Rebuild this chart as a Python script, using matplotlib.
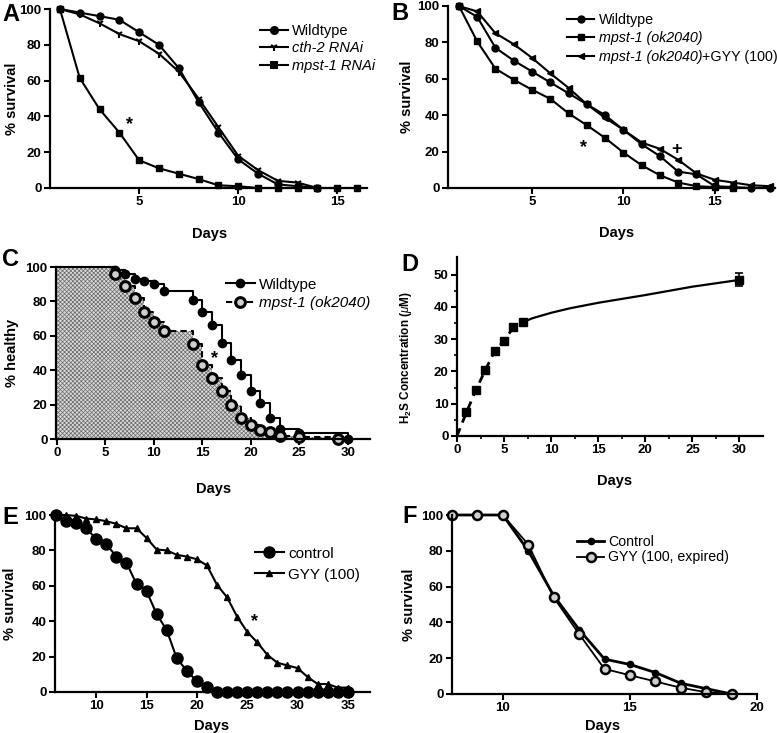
import numpy as np
import matplotlib
matplotlib.use('Agg')
import matplotlib.pyplot as plt
from matplotlib.lines import Line2D

plt.rcParams['font.family'] = ['Liberation Sans', 'DejaVu Sans']
plt.rcParams['font.weight'] = 'bold'
plt.rcParams['axes.labelweight'] = 'bold'
plt.rcParams['mathtext.fontset'] = 'custom'
plt.rcParams['mathtext.rm'] = 'Liberation Sans'
plt.rcParams['mathtext.it'] = 'Liberation Sans:style=italic:weight=normal'
plt.rcParams['mathtext.bf'] = 'Liberation Sans:weight=bold'
plt.rcParams['hatch.linewidth'] = 0.5
plt.rcParams['hatch.color'] = '#6a6a6a'

# ---- data ----
# A
a_days = np.arange(1, 17)
a_wt = [100, 98, 96, 94, 87, 80, 67, 48, 31, 16, 8, 2, 1, 0]
a_cth2 = [100, 97, 92, 86, 82, 75, 65, 50, 34, 18, 10, 4, 3, 0]
a_mpst = [100, 61.5, 44, 31, 15.5, 11, 8, 5, 1.5, 1, 0, 0, 0, 0, 0, 0]

# B
b_days = np.arange(1, 19)
b_wt = [100, 94, 77, 70, 64, 58, 52, 46, 40, 32, 24, 17.5, 9, 7.5, 1, 0.5, 0, 0]
b_mpst = [100, 80.5, 65.5, 59.5, 54, 49, 41, 34.5, 27.5, 19.5, 12.5, 7, 3, 1, 0.5, 0]
b_gyy = [100, 97, 85, 79, 71.5, 63, 55, 46, 38.5, 32, 25, 21.5, 15.5, 8, 4.5, 3, 1.5, 1]

# C (healthspan step curves)
c_wt_days = [0, 6, 7, 8, 9, 10, 11, 14, 15, 16, 17, 18, 19, 20, 21, 22, 23, 25, 30]
c_wt = [100, 98, 96, 93, 92, 90, 86, 81, 74, 66, 56, 46, 37, 28, 21, 12, 6, 3.5, 0]
c_mp_days = [0, 6, 7, 8, 9, 10, 11, 14, 15, 16, 17, 18, 19, 20, 21, 22, 23, 25, 29]
c_mp = [100, 96, 89, 82, 74, 68, 63, 55, 43, 35.5, 28, 19.5, 12.5, 8, 5.5, 4, 2, 1, 0]

# D
d_days = [0, 1, 2, 3, 4, 5, 6, 7]
d_conc = [0, 7.3, 14.2, 20.4, 26.3, 29.6, 33.7, 35.3]
d_last_day = [30]
d_last_conc = [48.4]
d_last_err = [2]
d_fit_days = [7, 8, 10, 12, 15, 20, 25, 30]
d_fit_conc = [35.3, 36.5, 38.2, 39.6, 41.3, 43.7, 46.3, 48.4]

# E
e_days = np.arange(6, 36)
e_ctrl = [100, 96.5, 95.5, 92.5, 86.5, 83.5, 76.5, 73, 61, 57, 44, 35, 19, 12, 6, 3,
          0, 0, 0, 0, 0, 0, 0, 0, 0, 0, 0, 0, 0, 0]
e_gyy = [100, 100, 99.5, 98, 97.5, 96.5, 95, 92.5, 92.5, 87, 80.5, 80, 77.5, 76.5, 75,
         71.5, 60.5, 53.5, 42.5, 34, 28, 21, 16.5, 15, 13.5, 8.5, 4.5, 4.5, 2.5, 2.5]

# F
f_days = np.arange(8, 20)
f_ctrl = [100, 100, 100, 80, 55, 36, 19.5, 16.5, 12, 6, 3, 0]
f_gyy = [100, 100, 100, 83.5, 54, 33.5, 14, 10.5, 7, 3.5, 1, 0]

W, H = 777, 733
fig = plt.figure(figsize=(W / 100, H / 100), dpi=100)


def make_ax(l, t, r, b):
    ax = fig.add_axes([l / W, 1 - b / H, (r - l) / W, (b - t) / H])
    for s in ['top', 'right']:
        ax.spines[s].set_visible(False)
    for s in ['left', 'bottom']:
        ax.spines[s].set_linewidth(1.6)
    ax.tick_params(width=1.5, length=4, labelsize=9.5, pad=2)
    ax.patch.set_alpha(0)
    ax.box = (l, t, r, b)
    return ax


def labels(ax, ylab, yright, xlab, xcenter, ycenter, fs=10.5, yfs=10.5, ymid=None):
    # positions given in figure pixels
    l, t, r, b = ax.box
    ax.set_ylabel(ylab, fontsize=yfs)
    ymid = (t + b) / 2 if ymid is None else ymid
    ax.yaxis.set_label_coords((yright - l) / (r - l), (b - ymid) / (b - t))
    if xlab:
        ax.set_xlabel(xlab, fontsize=fs)
        ax.xaxis.set_label_coords((xcenter - l) / (r - l), (b - (ycenter - 6)) / (b - t))


def legend(ax, handles, names, x, y, italic=(), fs=10.5, sp=0.2):
    lg = ax.legend(handles, names, loc='upper left', bbox_to_anchor=(x / W, 1 - y / H),
                   bbox_transform=fig.transFigure, frameon=False,
                   prop={'size': fs, 'weight': 'normal'},
                   handlelength=1.9, handletextpad=0.3, labelspacing=sp, borderpad=0)
    for i, t in enumerate(lg.get_texts()):
        if i in italic:
            t.set_fontstyle('italic')
    return lg


kw = dict(color='black', lw=1.5, clip_on=False)

# ---- A ----
axA = make_ax(50, 9, 367, 188)
axA.plot(a_days[:len(a_wt)], a_wt, marker='o', ms=5, **kw)
axA.plot(a_days[:len(a_cth2)], a_cth2, marker='1', ms=6, mew=1.5, **kw)
axA.plot(a_days, a_mpst, marker='s', ms=5, **kw)
axA.set_xlim(0.5, 16.5)
axA.set_ylim(0, 100)
axA.set_xticks([5, 10, 15])
axA.set_yticks([0, 20, 40, 60, 80, 100])
axA.text(4.5, 33, '*', fontsize=13, ha='center')
labels(axA, '% survival', 19, 'Days', 210, 233)
legend(axA, [Line2D([], [], marker=m, ms=s, color='k', lw=1.5, mew=1.5) for m, s in
             [('o', 5), ('1', 6), ('s', 5)]],
       ['Wildtype', 'cth-2 RNAi', 'mpst-1 RNAi'], 253, 17, italic=(1, 2), sp=0.22)

# ---- B ----
axB = make_ax(448, 6, 775, 188)
axB.plot(b_days[:len(b_wt)], b_wt, marker='o', ms=5, **kw)
axB.plot(b_days[:len(b_mpst)], b_mpst, marker='s', ms=5, **kw)
axB.plot(b_days, b_gyy, marker='<', ms=5, **kw)
axB.set_xlim(0.4, 18.3)
axB.set_ylim(0, 100)
axB.set_xticks([5, 10, 15])
axB.set_yticks([0, 20, 40, 60, 80, 100])
axB.text(7.8, 20, '*', fontsize=13, ha='center')
axB.text(12.9, 18.5, '+', fontsize=13, ha='center')
labels(axB, '% survival', 414, 'Days', 617, 232)
lgB = legend(axB, [Line2D([], [], marker=m, ms=5, color='k', lw=1.5) for m in ['o', 's', '<']],
             ['Wildtype', 'mpst-1 (ok2040)', 'mpst-1 (ok2040)'], 560, 6, italic=(1, 2),
             fs=10.3, sp=0.3)

# ---- C ----
axC = make_ax(56, 267, 370, 439)
axC.fill_between(c_mp_days, c_mp, step='post', facecolor='#d9d9d9',
                 edgecolor='#6a6a6a', hatch='xxxxxxxx', lw=0)
axC.step(c_wt_days, c_wt, where='post', color='k', lw=1.5, clip_on=False)
axC.plot(c_wt_days[1:], c_wt[1:], 'o', color='k', ms=6, clip_on=False)
axC.step(c_mp_days, c_mp, where='post', color='k', lw=1.5, ls=(0, (3, 2)), clip_on=False)
axC.plot(c_mp_days[1:], c_mp[1:], 'o', mfc='#cfcfcf', mec='k', mew=2.2, ms=7, clip_on=False)
axC.set_xlim(-0.1, 32.3)
axC.set_ylim(0, 100)
axC.set_xticks([0, 5, 10, 15, 20, 25, 30])
axC.set_yticks([0, 20, 40, 60, 80, 100])
axC.text(16.3, 44, '*', fontsize=13, ha='center')
labels(axC, '% healthy', 19, 'Days', 214, 488)
legend(axC, [Line2D([], [], marker='o', ms=6, color='k', lw=1.5),
             Line2D([], [], marker='o', ms=7, mfc='#cfcfcf', mec='k', mew=2.2, color='k',
                    lw=1.5, ls=(0, (3, 2)))],
       ['Wildtype', 'mpst-1 (ok2040)'], 218, 270, italic=(1,), fs=11, sp=0.3)

# ---- D ----
axD = make_ax(457, 257, 763, 436)
axD.plot(d_days, d_conc, color='k', lw=2, ls=(0, (3, 2.2)), clip_on=False)
axD.plot(d_days[1:], d_conc[1:], 's', color='k', ms=6, clip_on=False)
axD.plot(d_fit_days, d_fit_conc, color='k', lw=1.6)
axD.errorbar(d_last_day, d_last_conc, yerr=d_last_err, fmt='s', color='k', ms=6,
             capsize=3, elinewidth=1.2, capthick=1.2)
axD.set_xlim(0, 32.5)
axD.set_ylim(0, 55.5)
axD.set_xticks([0, 5, 10, 15, 20, 25, 30])
axD.set_xticks(np.arange(2.5, 32.5, 5), minor=True)
axD.set_yticks([0, 10, 20, 30, 40, 50])
axD.set_yticks(np.arange(5, 55, 10), minor=True)
axD.tick_params(which='minor', width=1.2, length=2.5)
labels(axD, 'H$_\\mathbf{2}$S Concentration ($\\mu$M)', 414, 'Days', 615, 480,
       yfs=8.5, ymid=357)

# ---- E ----
axE = make_ax(55, 515, 370, 692)
axE.plot(e_days, e_ctrl, marker='o', ms=8, **kw)
axE.plot(e_days, e_gyy, marker='^', ms=5, **kw)
axE.set_xlim(5.9, 37.2)
axE.set_ylim(0, 100)
axE.set_xticks([10, 15, 20, 25, 30, 35])
axE.set_yticks([0, 20, 40, 60, 80, 100])
axE.text(25.7, 37, '*', fontsize=13, ha='center')
labels(axE, '% survival', 17, 'Days', 212, 725)
legend(axE, [Line2D([], [], marker='o', ms=8, color='k', lw=1.5),
             Line2D([], [], marker='^', ms=5, color='k', lw=1.5)],
       ['control', 'GYY (100)'], 247, 539, fs=11, sp=0.45)

# ---- F ----
axF = make_ax(452, 515, 757, 694)
axF.plot(f_days, f_ctrl, marker='o', ms=4.5, color='k', lw=2, clip_on=False)
axF.plot(f_days, f_gyy, marker='o', ms=6.5, mfc='#cfcfcf', mec='k', mew=1.8,
         color='k', lw=1.3, clip_on=False)
axF.set_xlim(8, 20)
axF.set_ylim(0, 100)
axF.set_xticks([10, 15, 20])
axF.set_yticks([0, 20, 40, 60, 80, 100])
labels(axF, '% survival', 416, 'Days', 603, 725)
legend(axF, [Line2D([], [], marker='o', ms=4.5, color='k', lw=2),
             Line2D([], [], marker='o', ms=6.5, mfc='#cfcfcf', mec='k', mew=1.8,
                    color='k', lw=1.3)],
       ['Control', 'GYY (100, expired)'], 570, 528, fs=10.2, sp=0.1)

# panel letters
for letter, x, y in [('A', 2, 3), ('B', 391, 2), ('C', 2, 248), ('D', 401, 253),
                     ('E', 2, 506), ('F', 402, 505)]:
    fig.text(x / W, 1 - y / H, letter, fontsize=17, va='top')

# upright "+GYY (100)" after the italic part of the third legend entry in B
fig.canvas.draw()
bb = lgB.get_texts()[2].get_window_extent()
fig.text(bb.x1 / W, bb.y0 / H, '+GYY (100)', fontsize=10.3, fontweight='normal',
         ha='left', va='bottom')

fig.savefig('out.png', dpi=100)
